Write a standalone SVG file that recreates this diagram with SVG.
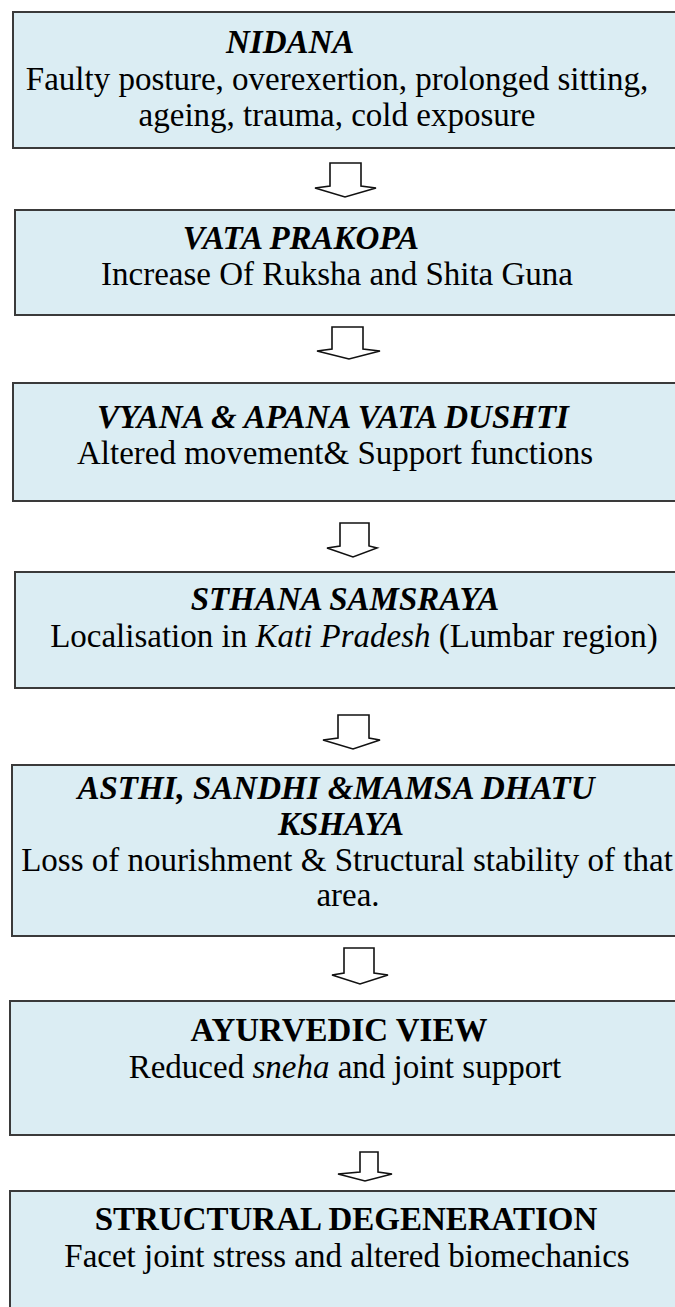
<svg xmlns="http://www.w3.org/2000/svg" width="675" height="1307" viewBox="0 0 675 1307">
<style>
.box{fill:#DBEDF3;stroke:#3a3a3a;stroke-width:2}
.t{font-family:"Liberation Serif","Times New Roman",serif;font-size:33px;fill:#000}
.h{font-weight:bold;font-style:italic}
.hb{font-weight:bold}
.i{font-style:italic}
.arr{fill:#fff;stroke:#111;stroke-width:1.6;stroke-linejoin:miter}
</style>
<rect width="675" height="1307" fill="#fff"/>
<g id="n1">
<rect class="box" x="13" y="12" width="680" height="136"/>
<text class="t h" x="226" y="53">NIDANA</text>
<text class="t" x="337" y="90" text-anchor="middle">Faulty posture, overexertion, prolonged sitting,</text>
<text class="t" x="337" y="126" text-anchor="middle">ageing, trauma, cold exposure</text>
</g>
<g id="n2">
<rect class="box" x="15" y="210" width="680" height="105"/>
<text class="t h" x="301" y="249" text-anchor="middle">VATA PRAKOPA</text>
<text class="t" x="337" y="285" text-anchor="middle">Increase Of Ruksha and Shita Guna</text>
</g>
<g id="n3">
<rect class="box" x="13" y="383" width="680" height="118"/>
<text class="t h" x="333" y="428" text-anchor="middle">VYANA &amp; APANA VATA DUSHTI</text>
<text class="t" x="335" y="464" text-anchor="middle">Altered movement&amp; Support functions</text>
</g>
<g id="n4">
<rect class="box" x="15" y="572" width="680" height="116"/>
<text class="t h" x="345" y="610" text-anchor="middle">STHANA SAMSRAYA</text>
<text class="t" x="354" y="647" text-anchor="middle">Localisation in <tspan class="i">Kati Pradesh</tspan> (Lumbar region)</text>
</g>
<g id="n5">
<rect class="box" x="12" y="765" width="680" height="171"/>
<text class="t h" x="336" y="799" text-anchor="middle">ASTHI, SANDHI &amp;MAMSA DHATU</text>
<text class="t h" x="341" y="835" text-anchor="middle">KSHAYA</text>
<text class="t" x="347" y="871" text-anchor="middle">Loss of nourishment &amp; Structural stability of that</text>
<text class="t" x="348" y="906" text-anchor="middle">area.</text>
</g>
<g id="n6">
<rect class="box" x="10" y="1001" width="680" height="134"/>
<text class="t hb" x="339" y="1041" text-anchor="middle">AYURVEDIC VIEW</text>
<text class="t" x="345" y="1078" text-anchor="middle">Reduced <tspan class="i">sneha</tspan> and joint support</text>
</g>
<g id="n7">
<rect class="box" x="10" y="1191" width="680" height="140"/>
<text class="t hb" x="346" y="1230" text-anchor="middle">STRUCTURAL DEGENERATION</text>
<text class="t" x="347" y="1267" text-anchor="middle">Facet joint stress and altered biomechanics</text>
</g>
<g id="connectors">
<polygon class="arr" points="330,163 361,163 361,186 376,188 345,197 315,188 330,186"/>
<polygon class="arr" points="332,327 363,327 363,349 380,351 349,359 317,351 332,349"/>
<polygon class="arr" points="340,523 369,523 369,546 377,548 353,557 327,548 340,546"/>
<polygon class="arr" points="338,715 369,715 369,738 380,740 353,749 323,740 338,738"/>
<polygon class="arr" points="344,948 374,948 374,973 388,975 360,984 332,975 344,973"/>
<polygon class="arr" points="360,1152 378,1152 378,1172 392,1174 365,1181 338,1174 360,1172"/>
</g>
</svg>
